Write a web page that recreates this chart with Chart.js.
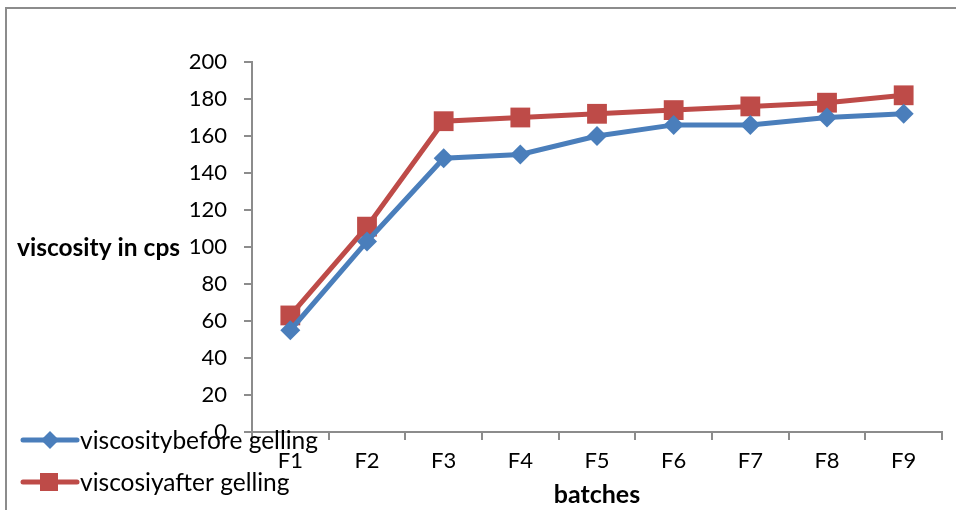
<!DOCTYPE html>
<html>
<head>
<meta charset="utf-8">
<script src="https://cdn.jsdelivr.net/npm/chart.js@4/dist/chart.umd.min.js"></script>
<style>
  html, body { margin: 0; padding: 0; background: #fff; }
  #wrap { position: relative; width: 956px; height: 510px; overflow: hidden; }
  #frame { position: absolute; left: 5px; top: 7px; width: 1000px; height: 600px;
           border-left: 2px solid #8c8c8c; border-top: 2px solid #8c8c8c; box-sizing: border-box; }
  canvas { position: absolute; left: 0; top: 0; }
</style>
</head>
<body>
<div id="wrap">
  <div id="frame"></div>
  <canvas id="c" width="956" height="510"></canvas>
</div>
<script>
const categories = ["F1", "F2", "F3", "F4", "F5", "F6", "F7", "F8", "F9"];
const seriesNames = ["viscositybefore gelling", "viscosiyafter gelling"];
const beforeGelling = [55, 103, 148, 150, 160, 166, 166, 170, 172];
const afterGelling = [63, 111, 168, 170, 172, 174, 176, 178, 182];
const yTitle = "viscosity in cps";
const xTitle = "batches";

const FONT = "Lato, 'Open Sans', sans-serif";
const BLUE = "#4A7EBB";
const RED = "#BE4B48";

const overlayPlugin = {
  id: 'overlay',
  afterDraw(chart) {
    const ctx = chart.ctx;
    ctx.save();
    // y-axis title, horizontal
    ctx.fillStyle = '#000';
    ctx.font = "bold 24.5px " + FONT;
    ctx.textAlign = 'left';
    ctx.textBaseline = 'middle';
    ctx.fillText(yTitle, 17, 248);
    // legend
    const items = chart.data.datasets;
    const rows = [440, 482];
    items.forEach((ds, i) => {
      const y = rows[i];
      ctx.strokeStyle = ds.borderColor;
      ctx.lineWidth = 5;
      ctx.lineCap = 'round';
      ctx.beginPath();
      ctx.moveTo(23, y);
      ctx.lineTo(77, y);
      ctx.stroke();
      ctx.fillStyle = ds.backgroundColor;
      ctx.beginPath();
      if (ds.pointStyle === 'rectRot') {
        const r = 9;
        ctx.moveTo(50, y - r); ctx.lineTo(50 + r, y); ctx.lineTo(50, y + r); ctx.lineTo(50 - r, y);
        ctx.closePath();
      } else {
        ctx.rect(40, y - 9, 18, 18);
      }
      ctx.fill();
      ctx.fillStyle = '#000';
      ctx.font = "24.5px " + FONT;
      ctx.textAlign = 'left';
      ctx.textBaseline = 'middle';
      ctx.fillText(ds.label, 80, y + 1);
    });
    ctx.restore();
  }
};

new Chart(document.getElementById('c'), {
  type: 'line',
  data: {
    labels: categories,
    datasets: [
      {
        label: seriesNames[0],
        data: beforeGelling,
        borderColor: BLUE,
        backgroundColor: BLUE,
        borderWidth: 5,
        pointStyle: 'rectRot',
        pointRadius: 10,
        pointHoverRadius: 10,
        pointBorderWidth: 0,
        tension: 0
      },
      {
        label: seriesNames[1],
        data: afterGelling,
        borderColor: RED,
        backgroundColor: RED,
        borderWidth: 5,
        pointStyle: 'rect',
        pointRadius: 14,
        pointHoverRadius: 14,
        pointBorderWidth: 0,
        tension: 0
      }
    ]
  },
  options: {
    responsive: false,
    animation: false,
    devicePixelRatio: 1,
    layout: { padding: { left: 0, top: 62, right: 11, bottom: 0 } },
    plugins: {
      legend: { display: false },
      tooltip: { enabled: false }
    },
    scales: {
      x: {
        offset: true,
        grid: {
          offset: true,
          drawOnChartArea: false,
          drawTicks: true,
          tickLength: 8,
          color: '#8c8c8c',
          lineWidth: 2
        },
        border: { color: '#8c8c8c', width: 2 },
        ticks: {
          color: '#000',
          font: { family: FONT, size: 22 },
          padding: 8,
          maxRotation: 0
        },
        title: {
          display: true,
          text: xTitle,
          color: '#000',
          font: { family: FONT, size: 25, weight: 'bold' },
          padding: { top: 0, bottom: 0 }
        },
        afterFit(scale) { scale.height = 78; }
      },
      y: {
        min: 0,
        max: 200,
        ticks: {
          stepSize: 20,
          color: '#000',
          font: { family: FONT, size: 22 },
          padding: 17
        },
        grid: {
          drawOnChartArea: false,
          drawTicks: true,
          tickLength: 8,
          color: '#8c8c8c',
          lineWidth: 2
        },
        border: { color: '#8c8c8c', width: 2 },
        afterFit(scale) { scale.width = 252; }
      }
    }
  },
  plugins: [overlayPlugin]
});
</script>
</body>
</html>
